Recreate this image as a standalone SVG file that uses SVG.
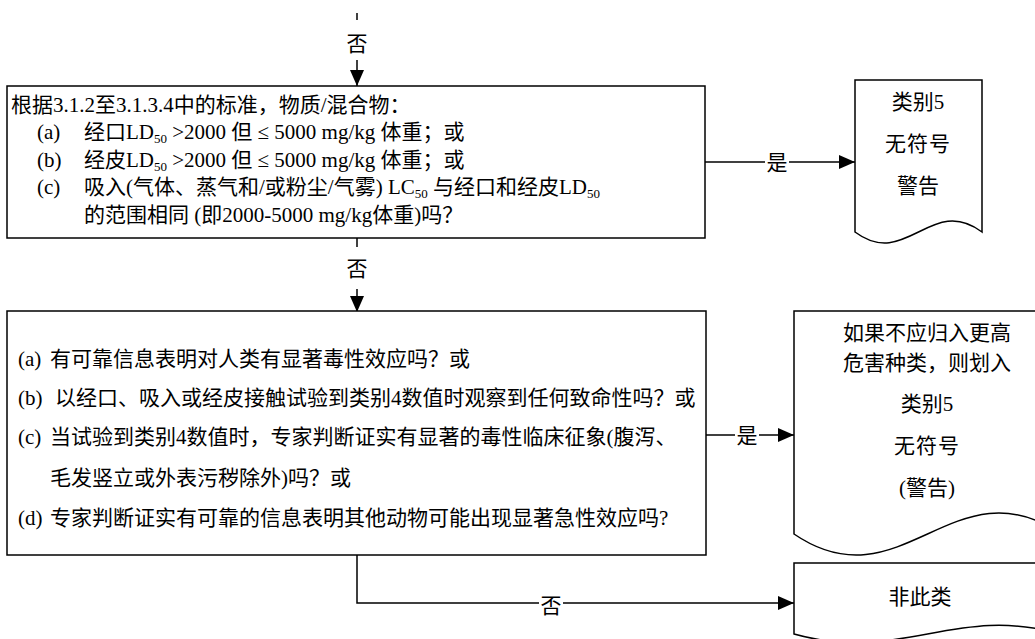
<svg xmlns="http://www.w3.org/2000/svg" width="1035" height="639" viewBox="0 0 1035 639">
<defs>
<marker id="arr" markerUnits="userSpaceOnUse" markerWidth="16" markerHeight="14" refX="16" refY="7" orient="auto">
<path d="M0,0 L16,7 L0,14 Z" fill="#000"/>
</marker>
<style>
.t{font-family:"Liberation Serif","Noto Sans CJK SC",serif;font-size:21px;fill:#000}
.c{text-anchor:middle}
.s{font-size:13px}
.box{fill:#fff;stroke:#000;stroke-width:1.5}
.ln{fill:none;stroke:#000;stroke-width:1.5}
.bg{fill:#fff}
</style>
</defs>
<rect width="1035" height="639" fill="#fff"/>
<g id="connectors">
<line class="ln" x1="357" y1="13" x2="357" y2="20"/>
<line class="ln" x1="357" y1="60" x2="357" y2="86" marker-end="url(#arr)"/>
<line class="ln" x1="357" y1="238" x2="357" y2="247"/>
<line class="ln" x1="357" y1="289" x2="357" y2="312" marker-end="url(#arr)"/>
<line class="ln" x1="705" y1="162" x2="855" y2="162" marker-end="url(#arr)"/>
<line class="ln" x1="706" y1="435" x2="794" y2="435" marker-end="url(#arr)"/>
<polyline class="ln" points="357,555 357,603 794,603" marker-end="url(#arr)"/>
<rect class="bg" x="765" y="150" width="24" height="24"/>
<rect class="bg" x="735" y="423" width="24" height="24"/>
<rect class="bg" x="539" y="593" width="24" height="24"/>
<text class="t c" x="357" y="51">否</text>
<text class="t c" x="357" y="276">否</text>
<text class="t c" x="777" y="170">是</text>
<text class="t c" x="747" y="443">是</text>
<text class="t c" x="551" y="613">否</text>
</g>
<g id="box1">
<rect class="box" x="7" y="86" width="698" height="152"/>
<text class="t" x="11" y="112">根据3.1.2至3.1.3.4中的标准，物质/混合物：</text>
<text class="t" x="37" y="139">(a)</text>
<text class="t" x="84" y="139">经口LD<tspan class="s" dy="4">50</tspan><tspan dy="-4"> &gt;2000 但 ≤ 5000 mg/kg 体重；或</tspan></text>
<text class="t" x="37" y="167">(b)</text>
<text class="t" x="84" y="167">经皮LD<tspan class="s" dy="4">50</tspan><tspan dy="-4"> &gt;2000 但 ≤ 5000 mg/kg 体重；或</tspan></text>
<text class="t" x="37" y="194">(c)</text>
<text class="t" x="84" y="194">吸入(气体、蒸气和/或粉尘/气雾) LC<tspan class="s" dy="4">50</tspan><tspan dy="-4"> 与经口和经皮LD</tspan><tspan class="s" dy="4">50</tspan></text>
<text class="t" x="84" y="222">的范围相同 (即2000-5000 mg/kg体重)吗？</text>
</g>
<g id="doc1">
<path class="box" d="M855,80 H982 V232 C931,194 906,270 855,232 Z"/>
<text class="t c" x="918" y="109">类别5</text>
<text class="t c" x="918" y="151" letter-spacing="1">无符号</text>
<text class="t c" x="918" y="193">警告</text>
</g>
<g id="box2">
<rect class="box" x="7" y="311" width="699" height="244"/>
<text class="t" x="18" y="366">(a)</text>
<text class="t" x="50" y="366">有可靠信息表明对人类有显著毒性效应吗？或</text>
<text class="t" x="18" y="405">(b)</text>
<text class="t" x="55" y="405">以经口、吸入或经皮接触试验到类别4数值时观察到任何致命性吗？或</text>
<text class="t" x="18" y="444">(c)</text>
<text class="t" x="50" y="444">当试验到类别4数值时，专家判断证实有显著的毒性临床征象(腹泻、</text>
<text class="t" x="50" y="485">毛发竖立或外表污秽除外)吗？或</text>
<text class="t" x="18" y="525">(d)</text>
<text class="t" x="50" y="525">专家判断证实有可靠的信息表明其他动物可能出现显著急性效应吗?</text>
</g>
<g id="doc2">
<path class="box" d="M794,311 H1061 V534 C954,461 901,607 794,534 Z"/>
<text class="t c" x="927" y="340">如果不应归入更高</text>
<text class="t c" x="927" y="370">危害种类，则划入</text>
<text class="t c" x="927" y="411">类别5</text>
<text class="t c" x="927" y="453" letter-spacing="1">无符号</text>
<text class="t c" x="927" y="495">(警告)</text>
</g>
<g id="doc3">
<path class="box" d="M794,563 H1061 V634 C954,604 901,664 794,634 Z"/>
<text class="t c" x="920" y="604">非此类</text>
</g>
</svg>
